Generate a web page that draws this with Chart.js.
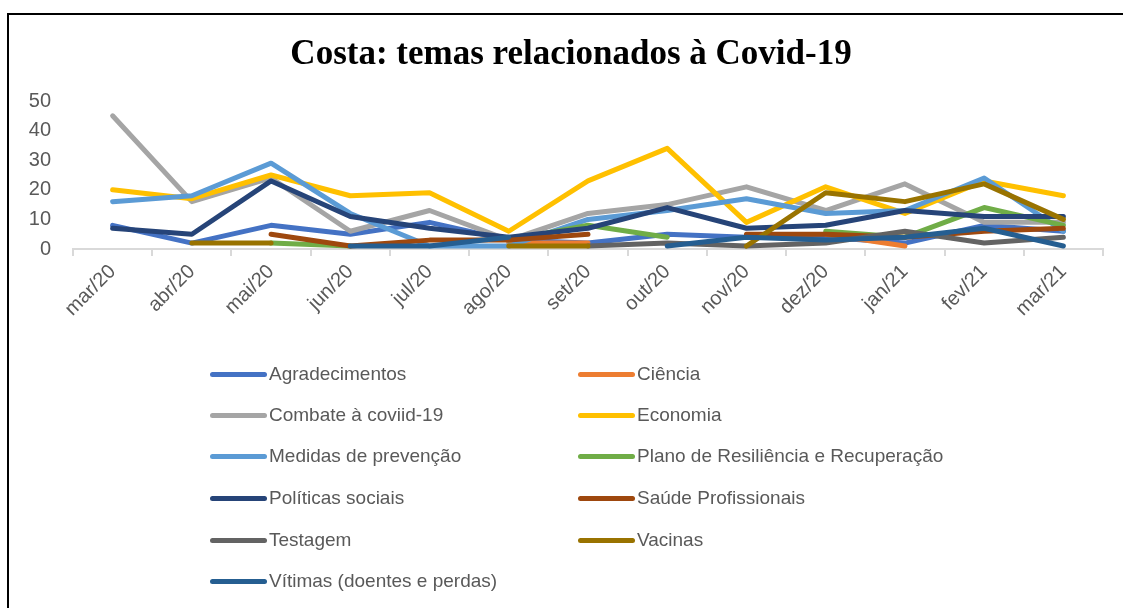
<!DOCTYPE html>
<html>
<head>
<meta charset="utf-8">
<script src="https://cdn.jsdelivr.net/npm/chart.js@4/dist/chart.umd.min.js"></script>
<style>
  html, body { margin: 0; padding: 0; background: #fff; }
  #wrap { position: relative; width: 1123px; height: 608px; overflow: hidden; }
  #frame { position: absolute; left: 7px; top: 13px; width: 1130px; height: 700px; border: 2px solid #000; box-sizing: border-box; }
  #chart { position: absolute; left: 0; top: 0; }
  .leg { position: absolute; font-family: "Liberation Sans", Arial, sans-serif; font-size: 19px; color: #595959; white-space: nowrap; }
  .leg i { position: absolute; left: 0; top: -2px; width: 57px; height: 5px; border-radius: 3px; }
  .leg span { position: absolute; left: 59px; top: -11px; line-height: 22px; }
</style>
</head>
<body>
<div id="wrap">
  <div id="frame"></div>
  <canvas id="chart" width="1123" height="608"></canvas>
  <div id="legend"></div>
</div>
<script>
var months = ['mar/20','abr/20','mai/20','jun/20','jul/20','ago/20','set/20','out/20','nov/20','dez/20','jan/21','fev/21','mar/21'];

var agradecimentos = [8, 2, 8, 5, 9, 3, 2, 5, 4, 4, 2, 8, 6];
var ciencia        = [null, null, null, null, null, 2, 2, null, null, 5, 1, null, null];
var combate        = [45, 16, 24, 6, 13, 3, 12, 15, 21, 13, 22, 9, 9];
var economia       = [20, 17, 25, 18, 19, 6, 23, 34, 9, 21, 12, 23, 18];
var medidas        = [16, 18, 29, 12, 1, 1, 10, 13, 17, 12, 13, 24, 6];
var plano          = [null, null, 2, 1, null, 3, 8, 4, null, 6, 4, 14, 8];
var politicas      = [7, 5, 23, 11, 7, 4, 7, 14, 7, 8, 13, 11, 11];
var saude          = [null, null, 5, 1, 3, 3, 5, null, 5, 5, 4, 6, 7];
var testagem       = [null, null, null, null, null, null, 1, 2, 1, 2, 6, 2, 4];
var vacinas        = [null, 2, 2, null, null, 1, 1, null, 1, 19, 16, 22, 10];
var vitimas        = [null, null, null, 1, 1, 4, null, 1, 4, 3, 4, 7, 1];

var yTicks = [0, 10, 20, 30, 40, 50];
var titleText = 'Costa: temas relacionados à Covid-19';

var series = [
    ['Agradecimentos', agradecimentos, '#4472C4'],
    ['Ciência', ciencia, '#ED7D31'],
    ['Combate à coviid-19', combate, '#A5A5A5'],
    ['Economia', economia, '#FFC000'],
    ['Medidas de prevenção', medidas, '#5B9BD5'],
    ['Plano de Resiliência e Recuperação', plano, '#70AD47'],
    ['Políticas sociais', politicas, '#264478'],
    ['Saúde Profissionais', saude, '#9E480E'],
    ['Testagem', testagem, '#636363'],
    ['Vacinas', vacinas, '#997300'],
    ['Vítimas (doentes e perdas)', vitimas, '#255E91']
];

var datasets = series.map(function(s, i){
    return {
        label: s[0],
        data: s[1],
        borderColor: s[2],
        backgroundColor: s[2],
        borderWidth: 5,
        pointRadius: 0,
        tension: 0,
        borderCapStyle: 'round',
        borderJoinStyle: 'round',
        fill: false,
        order: series.length - i   // later series drawn on top, like Excel
    };
});

// title sits a bit right of the plot centre in the original, so draw it ourselves
var titlePlugin = {
    id: 'bigTitle',
    afterDraw: function(chart){
        var c = chart.ctx;
        c.save();
        c.font = 'bold 35px "Liberation Serif", "Times New Roman", serif';
        c.fillStyle = '#000';
        c.textAlign = 'center';
        c.textBaseline = 'middle';
        c.fillText(titleText, 571, 55);
        c.restore();
    }
};

var ctx = document.getElementById('chart').getContext('2d');
var chart = new Chart(ctx, {
    type: 'line',
    data: { labels: months, datasets: datasets },
    plugins: [titlePlugin],
    options: {
        responsive: false,
        animation: false,
        devicePixelRatio: 1,
        layout: { padding: { left: 8, right: 20, top: 101, bottom: 279 } },
        plugins: {
            legend: { display: false },
            tooltip: { enabled: false },
            title: { display: false }
        },
        scales: {
            x: {
                offset: true,
                grid: { display: true, drawOnChartArea: false, drawTicks: true, tickLength: 7, color: '#d9d9d9', lineWidth: 2, offset: true },
                border: { display: true, color: '#d9d9d9', width: 2 },
                ticks: {
                    minRotation: 45, maxRotation: 45, padding: 4,
                    color: '#595959',
                    font: { family: '"Liberation Sans", Arial, sans-serif', size: 20 }
                },
                afterFit: function(s){ s.height = 80; }
            },
            y: {
                min: 0, max: 50,
                afterBuildTicks: function(s){ s.ticks = yTicks.map(function(v){ return { value: v }; }); },
                grid: { display: false, drawTicks: false },
                border: { display: false },
                ticks: {
                    padding: 22,
                    color: '#595959',
                    font: { family: '"Liberation Sans", Arial, sans-serif', size: 20 }
                },
                afterFit: function(s){ s.width = 65; }
            }
        }
    }
});

// two column legend, built from the chart's datasets
var legCols = [210, 578];
var legRows = [374, 415, 456, 498, 540, 581];
var legend = document.getElementById('legend');
chart.data.datasets.forEach(function(ds, i){
    var el = document.createElement('div');
    el.className = 'leg';
    el.style.left = legCols[i % 2] + 'px';
    el.style.top = legRows[Math.floor(i / 2)] + 'px';
    el.innerHTML = '<i style="background:' + ds.borderColor + '"></i><span>' + ds.label + '</span>';
    legend.appendChild(el);
});
</script>
</body>
</html>
